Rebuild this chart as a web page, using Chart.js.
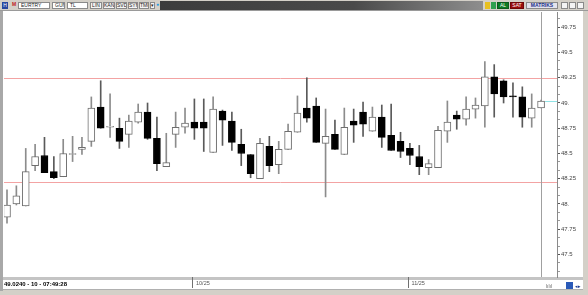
<!DOCTYPE html>
<html><head><meta charset="utf-8">
<script src="https://cdn.jsdelivr.net/npm/chart.js@4/dist/chart.umd.min.js"></script>
<style>
html,body{margin:0;padding:0;width:588px;height:295px;overflow:hidden;background:#d4d0c8;font-family:"Liberation Sans",Arial,sans-serif;}
#wrap{position:relative;width:588px;height:295px;}
canvas{position:absolute;left:0;top:0;}
.tb{position:absolute;top:0;left:0;width:588px;height:11px;background:#d4d0c8;border-bottom:1px solid #9a9a9a;box-sizing:border-box;}
.f{position:absolute;top:2px;height:7px;box-sizing:border-box;font-size:5px;line-height:5px;text-align:center;color:#222;border:1px solid #8a8a8a;background:#f4f4f4;overflow:hidden;white-space:nowrap;}
.w{background:#fff;text-align:left;padding-left:2px;}
.dark{position:absolute;top:1px;left:160px;width:323px;height:9px;background:linear-gradient(to right,#3c3c3c,#4a4a4a 60%,#8e8e8e);}
.st{position:absolute;left:4px;top:281px;font-size:6px;font-weight:bold;color:#000;line-height:7px;}
</style></head>
<body><div id="wrap">
<canvas id="c" width="588" height="295"></canvas>
<div class="tb">
  <div class="f" style="left:2px;width:6px;background:#2848a0;color:#fff;border-color:#2848a0;">H</div>
  <div class="f" style="left:10px;width:8px;background:#d4d0c8;border:none;color:#c02020;font-weight:bold;">M</div>
  <div class="f w" style="left:18px;width:32px;">EURTRY</div>
  <div class="f w" style="left:52px;width:13px;">GÜN</div>
  <div class="f w" style="left:67px;width:21px;">TL</div>
  <div class="f" style="left:90px;width:12px;">LİN</div>
  <div class="f" style="left:103px;width:12px;">KAN</div>
  <div class="f" style="left:116px;width:11px;">SVD</div>
  <div class="f" style="left:128px;width:10px;">SYM</div>
  <div class="f" style="left:139px;width:10px;">TMP</div>
  <div class="f" style="left:150px;width:5px;">▾</div>
  <div class="f" style="left:155px;width:5px;border:none;background:#d4d0c8;color:#2a9ae0;">●</div>
  <div class="dark"></div>
  <div class="f" style="left:485px;width:5px;border:none;background:#e8c020;"></div>
  <div class="f" style="left:491px;width:5px;border:none;background:#30a050;"></div>
  <div class="f" style="left:497px;width:12px;background:#0c7a24;color:#fff;border-color:#0c5a1c;">AL</div>
  <div class="f" style="left:510px;width:14px;background:#9a0c0c;color:#fff;border-color:#700808;">SAT</div>
  <div class="f" style="left:526px;width:32px;background:#e4e4ee;color:#203088;font-weight:bold;">MATRİKS</div>
  <div class="f" style="left:561px;width:7px;"></div>
  <div class="f" style="left:569px;width:7px;"></div>
  <div class="f" style="left:577px;width:7px;"></div>
</div>
<div class="st">49.0240 - 10 - 07:49:28</div>
<div style="position:absolute;left:546px;top:283px;font-size:5px;color:#666;">lılıl</div>
<div style="position:absolute;left:566px;top:282px;width:7px;height:7px;background:#2a5ab8;"></div>
<div style="position:absolute;left:575px;top:283px;font-size:5px;color:#1a3a90;">◂▸</div>
</div>
<script>
// ---- data ----
const dates = ['03.09','04.09','05.09','08.09','09.09','10.09','11.09','12.09','15.09','16.09','17.09','18.09','19.09','22.09','23.09','24.09','25.09','26.09','29.09','30.09',
 '01.10','02.10','03.10','06.10','07.10','08.10','09.10','10.10','13.10','14.10','15.10','16.10','17.10','20.10','21.10','22.10','23.10','24.10','27.10','28.10','29.10','30.10','31.10',
 '03.11','04.11','05.11','06.11','07.11','10.11','11.11','12.11','13.11','14.11','17.11','18.11','19.11','20.11','21.11'];
const openV  = [47.87,48.00,47.98,48.38,48.48,48.32,48.27,48.49,48.54,48.62,48.96,48.76,48.75,48.69,48.81,48.91,48.65,48.37,48.69,48.76,
 48.81,48.81,48.51,48.92,48.82,48.59,48.49,48.25,48.57,48.39,48.54,48.71,48.95,48.97,48.60,48.69,48.49,48.82,48.91,48.72,48.86,48.68,48.62,
 48.55,48.47,48.36,48.36,48.72,48.88,48.84,48.94,48.97,49.26,49.22,49.07,49.06,48.85,48.95];
const highV  = [48.14,48.18,48.55,48.59,48.66,48.47,48.64,48.67,48.66,49.06,49.22,49.09,48.85,48.88,48.99,49.00,48.86,48.70,48.91,48.95,
 49.04,49.04,49.06,48.93,48.91,48.74,48.49,48.65,48.67,48.62,48.79,49.07,49.25,49.05,48.94,48.83,48.95,48.94,49.01,48.96,48.98,48.99,48.71,
 48.60,48.58,48.44,48.77,49.02,48.92,49.06,49.05,49.41,49.38,49.23,49.20,49.16,49.09,49.03];
const lowV   = [47.81,47.99,47.98,48.33,48.31,48.25,48.27,48.42,48.49,48.57,48.75,48.66,48.55,48.56,48.80,48.64,48.33,48.37,48.56,48.70,
 48.64,48.52,48.51,48.58,48.53,48.38,48.26,48.25,48.32,48.30,48.54,48.71,48.81,48.61,48.07,48.54,48.49,48.61,48.67,48.72,48.56,48.53,48.46,
 48.39,48.29,48.29,48.36,48.61,48.74,48.78,48.85,48.76,48.86,49.00,48.86,48.76,48.76,48.95];
const closeV = [47.99,48.08,48.32,48.47,48.31,48.26,48.50,48.50,48.56,48.95,48.75,48.77,48.62,48.82,48.91,48.65,48.40,48.41,48.76,48.80,
 48.75,48.75,48.94,48.83,48.61,48.50,48.30,48.60,48.38,48.54,48.72,48.90,48.85,48.61,48.67,48.54,48.76,48.78,48.79,48.86,48.66,48.53,48.52,
 48.48,48.37,48.40,48.73,48.81,48.84,48.94,48.98,49.26,49.09,49.06,49.06,48.86,48.95,49.02];
const xTickLabels = ['10/25','11/25'];
const xTickIndex  = [20,43];
const yTickLabels = ['47.5','47.75','48.','48.25','48.5','48.75','49.','49.25','49.5','49.75'];
const yTickValues = [47.5,47.75,48,48.25,48.5,48.75,49,49.25,49.5,49.75];
const refLevels = [49.25,48.22];
const lastPrice = 49.02;

// ---- chart ----
const up = i => closeV[i] >= openV[i];
const bodies = dates.map((d,i)=>({x:i, y:[openV[i], closeV[i]]}));
const wicks  = dates.map((d,i)=>({x:i, y:[lowV[i], highV[i]]}));

const chrome = {
  id:'chrome',
  beforeDraw(ch){
    const c = ch.ctx; c.save();
    c.fillStyle='#d4d0c8'; c.fillRect(0,0,588,295);
    c.fillStyle='#ffffff'; c.fillRect(3,11,580,267);
    c.fillStyle='#a8a8a8'; c.fillRect(0,11,3,280);
    c.fillStyle='#c4c4c4'; c.fillRect(3,277,580,3);
    c.fillStyle='#ffffff'; c.fillRect(3,280,580,9);
    c.fillStyle='#b0b0b0'; c.fillRect(3,289,580,1);
    c.restore();
  },
  beforeDatasetsDraw(ch){
    const c = ch.ctx, a = ch.chartArea, ys = ch.scales.y, xs = ch.scales.x;
    c.save();
    c.lineWidth = 1;
    c.strokeStyle = '#f3a3a3';
    refLevels.forEach(v=>{
      const y = Math.round(ys.getPixelForValue(v))+0.5;
      c.beginPath(); c.moveTo(a.left,y); c.lineTo(a.right,y); c.stroke();
    });
    const cx = Math.round(xs.getPixelForValue(dates.length-1))+0.5;
    c.strokeStyle = '#a0a0a0';
    c.beginPath(); c.moveTo(cx,a.top); c.lineTo(cx,a.bottom); c.stroke();
    const ly = Math.round(ys.getPixelForValue(lastPrice))+0.5;
    c.strokeStyle = '#8fe3e6';
    c.beginPath(); c.moveTo(xs.getPixelForValue(dates.length-1)+4,ly); c.lineTo(a.right,ly); c.stroke();
    c.restore();
  }
};

new Chart(document.getElementById('c'), {
  type:'bar',
  data:{ datasets:[
    { label:'body', data:bodies, order:1, grouped:false, barThickness:7, borderWidth:1, borderSkipped:false,
      backgroundColor: dates.map((d,i)=> up(i) ? '#ffffff' : '#000000'),
      borderColor: dates.map((d,i)=> up(i) ? '#6e6e6e' : '#000000') },
    { label:'wick', data:wicks, order:2, grouped:false, barThickness:1, borderWidth:0,
      backgroundColor: dates.map((d,i)=> up(i) ? '#8c8c8c' : '#5a5a5a') }
  ]},
  options:{
    responsive:false, animation:false, devicePixelRatio:1,
    layout:{ padding:{ left:4, top:12, right:0, bottom:0 } },
    plugins:{ legend:{display:false}, tooltip:{enabled:false} },
    scales:{
      x:{ type:'linear', min:-0.32, max:58.7, offset:false,
        afterBuildTicks: s => { s.ticks = xTickIndex.map(v=>({value:v-0.15})); },
        afterFit: s => { s.height = 18; },
        grid:{ offset:false, drawOnChartArea:false, drawTicks:true, tickLength:11, tickColor:'#707070', tickWidth:1 },
        border:{ display:false },
        ticks:{ autoSkip:false, maxRotation:0, align:'start', labelOffset:3, padding:-8,
          color:'#555', font:{ family:'Liberation Sans', size:5.5 },
          callback:(v,i)=> xTickLabels[i] }
      },
      y:{ position:'right', min:47.277, max:49.901,
        afterBuildTicks: s => {
          const t=[]; for(let k=0;k<=30;k++){ const v = 47.3333 + k/12; if(v<49.9) t.push({value:+v.toFixed(4)}); }
          s.ticks = t;
        },
        afterFit: s => { s.width = 31; },
        grid:{ drawOnChartArea:false, tickLength:3,
          tickColor: ctx => { const v = ctx.tick ? ctx.tick.value : 0; return yTickValues.some(t=>Math.abs(t-v)<0.005) ? '#555' : '#9a9a9a'; } },
        border:{ display:true, color:'#8a8a8a' },
        ticks:{ autoSkip:false, padding:1, color:'#444', font:{ family:'Liberation Sans', size:6 },
          callback: v => { const j = yTickValues.findIndex(t=>Math.abs(t-v)<0.005); return j>=0 ? yTickLabels[j] : ''; } }
      }
    }
  },
  plugins:[chrome]
});
</script>
</body></html>
